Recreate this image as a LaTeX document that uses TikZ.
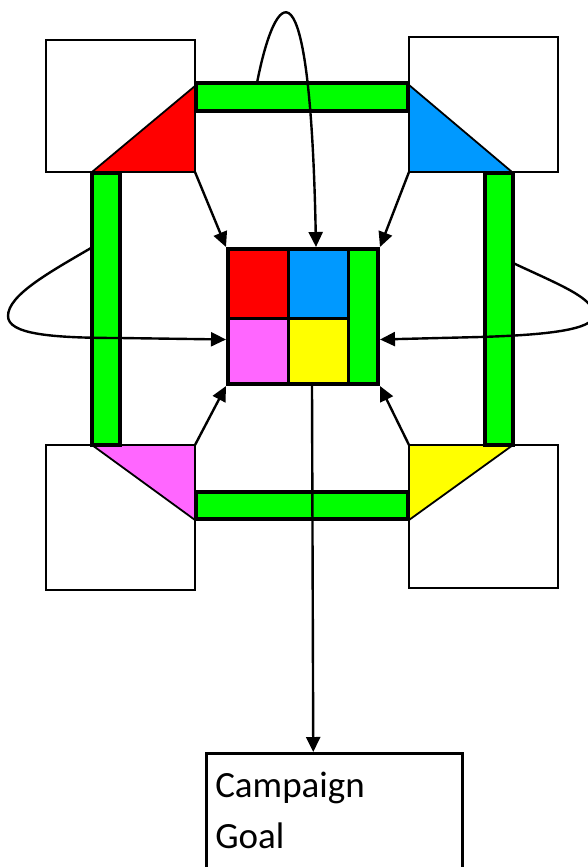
\documentclass[tikz,border=0pt]{standalone}
\usepackage{fontspec}
\setmainfont{Carlito}
\usepackage{xcolor}
\usetikzlibrary{arrows.meta, positioning}

\definecolor{cred}{HTML}{FF0000}
\definecolor{cblue}{HTML}{0099FF}
\definecolor{cgreen}{HTML}{00FF00}
\definecolor{cpink}{HTML}{FF66FF}
\definecolor{cyellow}{HTML}{FFFF00}

\begin{document}
\begin{tikzpicture}[x=1pt, y=-1pt,
    corner/.style={rectangle, draw, line width=2.5pt, minimum width=149pt, inner sep=0pt, outer sep=0pt},
    bar/.style={rectangle, draw, fill=cgreen, line width=3.3pt, inner sep=0pt},
    cell/.style={rectangle, draw, line width=3pt, inner sep=0pt},
    wedge/.style={draw, line width=1.8pt, line join=round},
    line/.style={draw, line width=2.4pt, -{Triangle[length=15pt, width=14pt]}}]

    \useasboundingbox (0,0) rectangle (588,867);

    % corner boxes
    \node [corner, minimum height=132pt] (tl) at (120.5,106) {};
    \node [corner, minimum height=135pt] (tr) at (483.5,104.5) {};
    \node [corner, minimum height=145pt] (bl) at (120.5,517.5) {};
    \node [corner, minimum height=143pt] (br) at (483.5,516.5) {};

    % corner wedges
    \draw [wedge, fill=cred] (tl.south east) -- (195,86) -- (92,172) -- cycle;
    \draw [wedge, fill=cblue] (tr.south west) -- (409,85) -- (512,172) -- cycle;
    \draw [wedge, fill=cpink] (bl.north east) -- (195,520) -- (92,445) -- cycle;
    \draw [wedge, fill=cyellow] (br.north west) -- (409,520) -- (513,445) -- cycle;

    % green bars
    \node [bar, minimum width=212pt, minimum height=28pt] (topbar) at (302,97) {};
    \node [bar, minimum width=28pt, minimum height=272pt] (leftbar) at (106,309) {};
    \node [bar, minimum width=28pt, minimum height=272pt] (rightbar) at (499,309) {};
    \node [bar, minimum width=212pt, minimum height=27pt] (botbar) at (302,505.5) {};

    % centre block
    \node [cell, fill=cred, minimum width=60pt, minimum height=69pt] (redcell) at (258,283.5) {};
    \node [cell, fill=cblue, minimum width=60pt, minimum height=69pt] (bluecell) at (318,283.5) {};
    \node [cell, fill=cpink, minimum width=60pt, minimum height=66pt] (pinkcell) at (258,351) {};
    \node [cell, fill=cyellow, minimum width=60pt, minimum height=66pt] (yellowcell) at (318,351) {};
    \node [cell, fill=cgreen, minimum width=30pt, minimum height=135pt] (greencell) at (363,316.5) {};
    \node [rectangle, draw, line width=4pt, inner sep=0pt, minimum width=150pt, minimum height=135pt] (core) at (303,316.5) {};

    % goal
    \node [rectangle, draw, line width=2.5pt, anchor=north west, text width=238pt, align=left,
           inner xsep=9pt, inner ysep=19pt, font=\fontsize{37}{51}\selectfont] (goal) at (205,752)
           {Campaign\\Goal\\~};

    \coordinate (tstart) at (257,83);
    \coordinate (lstart) at (91,248);
    \coordinate (rstart) at (513,263);

    \path [line] (tl.south east) -- (core.north west);
    \path [line] (tr.south west) -- (core.north east);
    \path [line] (bl.north east) -- (core.south west);
    \path [line] (br.north west) -- (core.south east);
    \path [line] (tstart) .. controls (275,-10) and (310,-55) .. ([xshift=13pt]core.north);
    \path [line] (lstart) .. controls (50,272) and (8,295) .. (8,316)
        .. controls (8,334) and (50,338) .. (120,338) -- ([yshift=-23pt]core.west);
    \path [line] (rstart) .. controls (560,285) and (594,298) .. (594,315)
        .. controls (594,330) and (545,335) .. (480,337) -- ([yshift=-23pt]core.east);
    \path [line] ([xshift=9pt]core.south) -- ([xshift=-21pt]goal.north);

\end{tikzpicture}
\end{document}
